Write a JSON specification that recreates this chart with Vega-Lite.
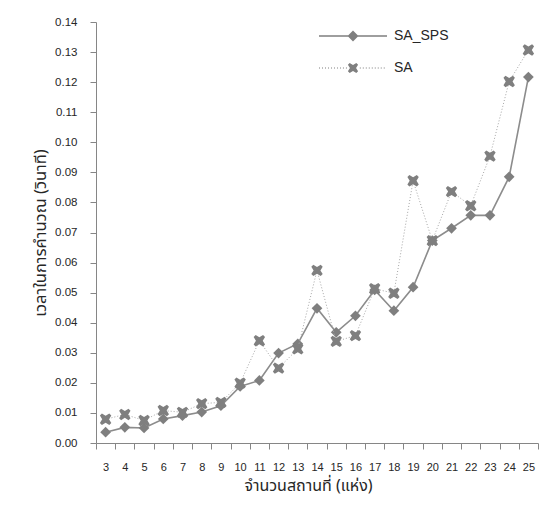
{
  "$schema": "https://vega.github.io/schema/vega-lite/v6.json",
  "width": 442,
  "height": 421,
  "autosize": "none",
  "padding": {"left": 96, "top": 22, "right": 17, "bottom": 67},
  "background": "white",
  "config": {"view": {"stroke": null}},
  "data": {
    "values": [
      {"n": 3, "series": "SA_SPS", "time": 0.0036}, {"n": 4, "series": "SA_SPS", "time": 0.0052},
      {"n": 5, "series": "SA_SPS", "time": 0.0050}, {"n": 6, "series": "SA_SPS", "time": 0.0080},
      {"n": 7, "series": "SA_SPS", "time": 0.0091}, {"n": 8, "series": "SA_SPS", "time": 0.0103},
      {"n": 9, "series": "SA_SPS", "time": 0.0124}, {"n": 10, "series": "SA_SPS", "time": 0.0188},
      {"n": 11, "series": "SA_SPS", "time": 0.0208}, {"n": 12, "series": "SA_SPS", "time": 0.0299},
      {"n": 13, "series": "SA_SPS", "time": 0.0330}, {"n": 14, "series": "SA_SPS", "time": 0.0448},
      {"n": 15, "series": "SA_SPS", "time": 0.0368}, {"n": 16, "series": "SA_SPS", "time": 0.0423},
      {"n": 17, "series": "SA_SPS", "time": 0.0509}, {"n": 18, "series": "SA_SPS", "time": 0.0440},
      {"n": 19, "series": "SA_SPS", "time": 0.0518}, {"n": 20, "series": "SA_SPS", "time": 0.0673},
      {"n": 21, "series": "SA_SPS", "time": 0.0714}, {"n": 22, "series": "SA_SPS", "time": 0.0757},
      {"n": 23, "series": "SA_SPS", "time": 0.0757}, {"n": 24, "series": "SA_SPS", "time": 0.0885},
      {"n": 25, "series": "SA_SPS", "time": 0.1217},
      {"n": 3, "series": "SA", "time": 0.0079}, {"n": 4, "series": "SA", "time": 0.0095},
      {"n": 5, "series": "SA", "time": 0.0075}, {"n": 6, "series": "SA", "time": 0.0108},
      {"n": 7, "series": "SA", "time": 0.0102}, {"n": 8, "series": "SA", "time": 0.0131},
      {"n": 9, "series": "SA", "time": 0.0135}, {"n": 10, "series": "SA", "time": 0.0199},
      {"n": 11, "series": "SA", "time": 0.0340}, {"n": 12, "series": "SA", "time": 0.0249},
      {"n": 13, "series": "SA", "time": 0.0313}, {"n": 14, "series": "SA", "time": 0.0574},
      {"n": 15, "series": "SA", "time": 0.0338}, {"n": 16, "series": "SA", "time": 0.0357},
      {"n": 17, "series": "SA", "time": 0.0513}, {"n": 18, "series": "SA", "time": 0.0498},
      {"n": 19, "series": "SA", "time": 0.0872}, {"n": 20, "series": "SA", "time": 0.0673},
      {"n": 21, "series": "SA", "time": 0.0836}, {"n": 22, "series": "SA", "time": 0.0789},
      {"n": 23, "series": "SA", "time": 0.0954}, {"n": 24, "series": "SA", "time": 0.1202},
      {"n": 25, "series": "SA", "time": 0.1307}
    ]
  },
  "encoding": {
    "x": {
      "field": "n",
      "type": "ordinal",
      "sort": "ascending",
      "scale": {"type": "band", "paddingInner": 0, "paddingOuter": 0},
      "axis": {
        "title": "จำนวนสถานที่ (แห่ง)",
        "labelAngle": 0,
        "tickBand": "extent",
        "grid": false,
        "domainColor": "#868686",
        "tickColor": "#868686",
        "tickSize": 6,
        "labelPadding": 12,
        "labelFont": "Liberation Sans",
        "labelFontSize": 11,
        "labelColor": "#262626",
        "titleFont": "Tahoma, Noto Sans Thai, sans-serif",
        "titleFontSize": 16,
        "titleFontWeight": "normal",
        "titleColor": "#262626",
        "titlePadding": 5,
        "titleX": 212
      }
    },
    "y": {
      "field": "time",
      "type": "quantitative",
      "scale": {"domain": [0, 0.14], "nice": false},
      "axis": {
        "title": "เวลาในการคำนวณ (วินาที)",
        "values": [0, 0.01, 0.02, 0.03, 0.04, 0.05, 0.06, 0.07, 0.08, 0.09, 0.1, 0.11, 0.12, 0.13, 0.14],
        "format": ".2f",
        "grid": false,
        "domainColor": "#868686",
        "tickColor": "#868686",
        "tickSize": 6,
        "labelPadding": 13,
        "labelFont": "Liberation Sans",
        "labelFontSize": 11.5,
        "labelColor": "#262626",
        "titleFont": "Tahoma, Noto Sans Thai, sans-serif",
        "titleFontSize": 16.5,
        "titleFontWeight": "normal",
        "titleColor": "#262626",
        "titlePadding": 6
      }
    }
  },
  "layer": [
    {
      "transform": [{"filter": "datum.series === 'SA_SPS'"}],
      "mark": {"type": "line", "color": "#8c8c8c", "strokeWidth": 1.6}
    },
    {
      "transform": [{"filter": "datum.series === 'SA_SPS'"}],
      "mark": {"type": "point", "shape": "diamond", "filled": true, "size": 115, "opacity": 1},
      "encoding": {
        "color": {
          "field": "series",
          "type": "nominal",
          "scale": {"domain": ["SA_SPS"], "range": ["#7f7f7f"]},
          "legend": {
            "title": null,
            "orient": "none",
            "legendX": 223,
            "legendY": -2,
            "padding": 0,
            "symbolOffset": 0,
            "symbolSize": 4624,
            "symbolType": "M-1,-0.0235H1V0.0235H-1Z M0,-0.16L0.16,0L0,0.16L-0.16,0Z",
            "symbolStrokeWidth": 0,
            "symbolOpacity": 1,
            "clipHeight": 32,
            "rowPadding": 0,
            "labelOffset": 7,
            "labelFont": "Liberation Sans",
            "labelFontSize": 14,
            "labelColor": "#262626"
          }
        }
      }
    },
    {
      "transform": [{"filter": "datum.series === 'SA'"}],
      "mark": {"type": "line", "color": "#a6a6a6", "strokeWidth": 1, "strokeDash": [1, 2]}
    },
    {
      "transform": [{"filter": "datum.series === 'SA'"}],
      "mark": {"type": "point", "shape": "M-1,-0.65L-0.65,-1L0,-0.6L0.65,-1L1,-0.65L0.6,0L1,0.65L0.65,1L0,0.6L-0.65,1L-1,0.65L-0.6,0Z", "filled": true, "size": 130, "opacity": 1},
      "encoding": {
        "fill": {
          "field": "series",
          "type": "nominal",
          "scale": {"domain": ["SA"], "range": ["#7f7f7f"]},
          "legend": {
            "title": null,
            "orient": "none",
            "legendX": 223,
            "legendY": 30,
            "padding": 0,
            "symbolOffset": 0,
            "symbolSize": 4624,
            "symbolType": "M-1,-0.012h0.03v0.024h-0.03z M-0.912,-0.012h0.03v0.024h-0.03z M-0.824,-0.012h0.03v0.024h-0.03z M-0.736,-0.012h0.03v0.024h-0.03z M-0.648,-0.012h0.03v0.024h-0.03z M-0.56,-0.012h0.03v0.024h-0.03z M-0.472,-0.012h0.03v0.024h-0.03z M-0.384,-0.012h0.03v0.024h-0.03z M-0.296,-0.012h0.03v0.024h-0.03z M-0.208,-0.012h0.03v0.024h-0.03z M0.2,-0.012h0.03v0.024h-0.03z M0.288,-0.012h0.03v0.024h-0.03z M0.376,-0.012h0.03v0.024h-0.03z M0.464,-0.012h0.03v0.024h-0.03z M0.552,-0.012h0.03v0.024h-0.03z M0.64,-0.012h0.03v0.024h-0.03z M0.728,-0.012h0.03v0.024h-0.03z M0.816,-0.012h0.03v0.024h-0.03z M0.904,-0.012h0.03v0.024h-0.03z M-0.15,-0.0975L-0.0975,-0.15L0,-0.09L0.0975,-0.15L0.15,-0.0975L0.09,0L0.15,0.0975L0.0975,0.15L0,0.09L-0.0975,0.15L-0.15,0.0975L-0.09,0Z",
            "symbolStrokeWidth": 0,
            "symbolOpacity": 1,
            "clipHeight": 32,
            "rowPadding": 0,
            "labelOffset": 7,
            "labelFont": "Liberation Sans",
            "labelFontSize": 14,
            "labelColor": "#262626"
          }
        }
      }
    }
  ]
}
